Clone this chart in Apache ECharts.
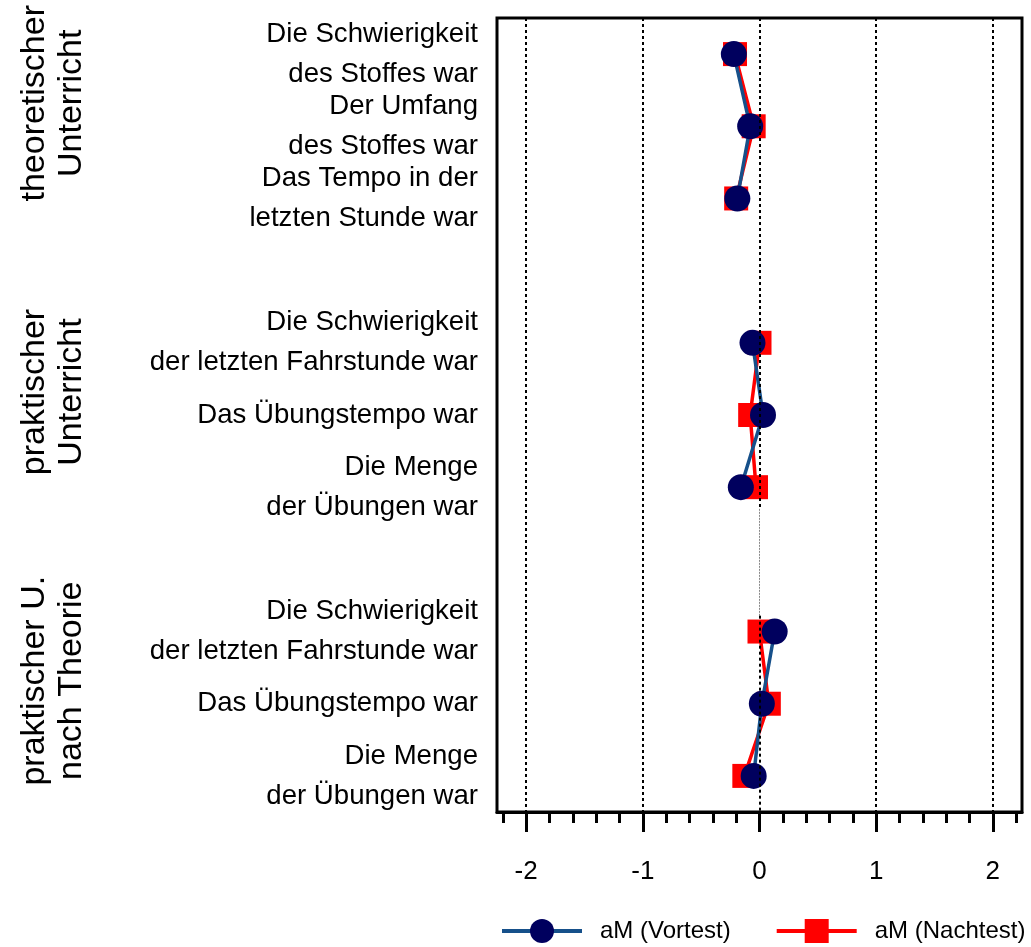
<!DOCTYPE html>
<html>
<head>
<meta charset="utf-8">
<script src="https://cdn.jsdelivr.net/npm/echarts@6/dist/echarts.min.js"></script>
<style>
html,body{margin:0;padding:0;background:#fff;}
#chart{width:1031px;height:947px;}
</style>
</head>
<body>
<div id="chart"></div>
<script>
// ---- data ----
const categories = [
  'Die Schwierigkeit\ndes Stoffes war',
  'Der Umfang\ndes Stoffes war',
  'Das Tempo in der\nletzten Stunde war',
  '',
  'Die Schwierigkeit\nder letzten Fahrstunde war',
  'Das Übungstempo war',
  'Die Menge\nder Übungen war',
  ' ',
  'Die Schwierigkeit\nder letzten Fahrstunde war',
  'Das Übungstempo war',
  'Die Menge\nder Übungen war'
];
const vortest  = [-0.22, -0.08, -0.19, null, -0.06, 0.03, -0.16, null, 0.13, 0.02, -0.05];
const nachtest = [-0.21, -0.05, -0.20, null, 0.00, -0.08, -0.03, null, 0.00, 0.08, -0.13];
const seriesNames = ['aM (Vortest)', 'aM (Nachtest)'];
const groupLabels = ['theoretischer\nUnterricht', 'praktischer\nUnterricht', 'praktischer U.\nnach Theorie'];
const groupCenterRows = [1, 5, 9];
const majorTicks = [-2, -1, 0, 1, 2];
const minorTicks = [-2.2, -1.8, -1.6, -1.4, -1.2, -0.8, -0.6, -0.4, -0.2, 0.2, 0.4, 0.6, 0.8, 1.2, 1.4, 1.6, 1.8, 2.2];
const gridLinesAt = [-2, -1, 1, 2];

const FONT = 'Liberation Sans, Arial, Helvetica, sans-serif';
const chart = echarts.init(document.getElementById('chart'), null, {renderer: 'canvas'});

const dotted = {color: '#000', width: 2, type: [3, 3]};

const option = {
  backgroundColor: '#fff',
  animation: false,
  textStyle: {fontFamily: FONT},
  grid: {left: 497, right: 9, top: 18, bottom: 135, show: true, borderColor: '#000', borderWidth: 3, backgroundColor: 'transparent'},
  xAxis: [
    {
      type: 'value', min: -2.25, max: 2.25, position: 'bottom',
      axisLine: {show: true, onZero: false, lineStyle: {color: '#000', width: 3}},
      axisTick: {show: true, customValues: majorTicks, length: 20, lineStyle: {color: '#000', width: 3}},
      axisLabel: {show: true, customValues: majorTicks, fontSize: 26, color: '#000', margin: 47, fontFamily: FONT},
      splitLine: {show: false}
    },
    {
      type: 'value', min: -2.25, max: 2.25, position: 'bottom',
      axisLine: {show: false, onZero: false},
      axisTick: {show: true, customValues: minorTicks, length: 11, lineStyle: {color: '#000', width: 3}},
      axisLabel: {show: false},
      splitLine: {show: false}
    }
  ],
  yAxis: [
    {
      type: 'category', data: categories, inverse: true,
      axisLine: {show: false, onZero: false}, axisTick: {show: false},
      axisLabel: {fontSize: 27.6, lineHeight: 40, color: '#000', margin: 19, align: 'right', fontFamily: FONT, interval: 0},
      splitLine: {show: false}
    },
    {
      type: 'value', min: -0.5, max: 10.5, inverse: true, show: false,
      axisLine: {onZero: false}
    }
  ],
  legend: {
    data: seriesNames,
    left: 500, top: 919, padding: 0,
    itemWidth: 80, itemHeight: 30, itemGap: 44,
    lineStyle: {width: 4},
    textStyle: {fontSize: 24, color: '#000', fontFamily: FONT, padding: [8, 0, 0, 13]}
  },
  series: [
    {
      type: 'line', xAxisIndex: 0, yAxisIndex: 1, data: [], z: 1, silent: true,
      markLine: {
        silent: true, symbol: 'none', label: {show: false}, animation: false,
        lineStyle: dotted,
        data: gridLinesAt.map(v => ({xAxis: v}))
          .concat([
            [{coord: [0, -0.5]}, {coord: [0, 6.3]}],
            [{coord: [0, 6.3], lineStyle: {color: '#888', width: 1, type: [2, 1]}}, {coord: [0, 7.78]}],
            [{coord: [0, 7.78]}, {coord: [0, 10.5]}]
          ])
      }
    },
    {
      name: seriesNames[0], type: 'line', xAxisIndex: 0, yAxisIndex: 0,
      data: vortest, connectNulls: false, z: 4,
      symbol: 'circle', symbolSize: 26,
      lineStyle: {color: '#16508a', width: 3.5},
      itemStyle: {color: '#00005e', borderWidth: 0},
      emphasis: {disabled: true}
    },
    {
      name: seriesNames[1], type: 'line', xAxisIndex: 0, yAxisIndex: 0,
      data: nachtest, connectNulls: false, z: 3,
      symbol: 'rect', symbolSize: 24,
      lineStyle: {color: '#ff0000', width: 3.5},
      itemStyle: {color: '#ff0000', borderWidth: 0},
      emphasis: {disabled: true}
    }
  ]
};
chart.setOption(option);

// group labels (rotated) placed relative to their group's middle row
const graphics = groupLabels.map((txt, i) => {
  const py = chart.convertToPixel({yAxisIndex: 0}, groupCenterRows[i]);
  return {
    type: 'text',
    x: 53, y: py - 23,
    rotation: Math.PI / 2,
    style: {
      text: txt, fontSize: 34, fontFamily: FONT, fill: '#000',
      align: 'center', verticalAlign: 'middle', lineHeight: 37
    }
  };
});
chart.setOption({graphic: graphics});
</script>
</body>
</html>
